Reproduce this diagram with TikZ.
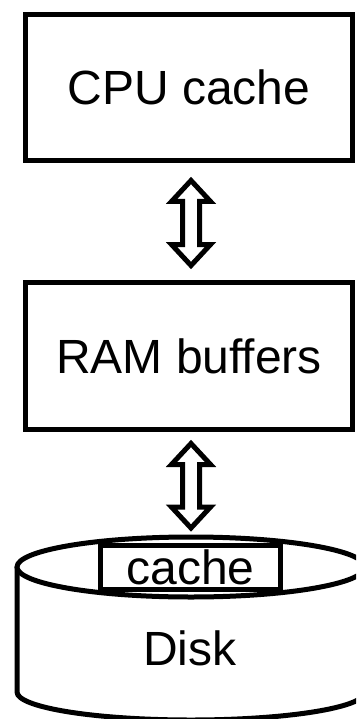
\documentclass[tikz,border=0pt]{standalone}
\usepackage{fontspec}
\setmainfont{Liberation Sans}
\usetikzlibrary{calc}
\newcommand*{\bigtext}{\fontsize{48}{57}\selectfont}
% hollow up-down arrow between two tip points
\newcommand*{\bidir}[2]{%
  \draw[fat arrow] (#1) -- ++(19.5,21) -- ++(-11,0) -- ($(#2)+(8.5,-21)$)
    -- ++(11,0) -- (#2) -- ++(-19.5,-21) -- ++(11,0)
    -- ($(#1)+(-8.5,21)$) -- ++(-11,0) -- cycle;}

\begin{document}
\begin{tikzpicture}[x=1pt, y=-1pt,
    line width=5pt,
    box/.style={draw, rectangle, inner sep=0pt, font=\bigtext},
    fat arrow/.style={draw, fill=white, line width=5pt, line join=miter}]
  \useasboundingbox (0,0) rectangle (356,719);
  \clip (0,0) rectangle (356,719);

  \node[box, minimum width=327pt, minimum height=146pt] (cpu) at (189,87.5) {CPU cache};
  \node[box, minimum width=327pt, minimum height=147pt] (ram) at (189,356) {RAM buffers};

  % disk cylinder
  \draw (17,567) -- (17,692) arc[start angle=180, end angle=0, x radius=174, y radius=28]
    -- (365,567);
  \draw[fill=white] (191,567) ellipse[x radius=174, y radius=30];
  \coordinate (disktop) at (191,537);

  \node[box, fill=white, minimum width=180pt, minimum height=44pt] (dcache) at (190.5,567.5) {cache};
  \node[font=\bigtext, inner sep=0pt] (disk) at (190,648) {Disk};

  \coordinate (a1t) at ($(cpu.south)+(2,17.5)$);
  \coordinate (a1b) at ($(ram.north)+(2,-14.5)$);
  \coordinate (a2t) at ($(ram.south)+(2,11.5)$);
  \coordinate (a2b) at ($(disktop)+(0,-9)$);

  \bidir{a1t}{a1b}
  \bidir{a2t}{a2b}
\end{tikzpicture}
\end{document}
